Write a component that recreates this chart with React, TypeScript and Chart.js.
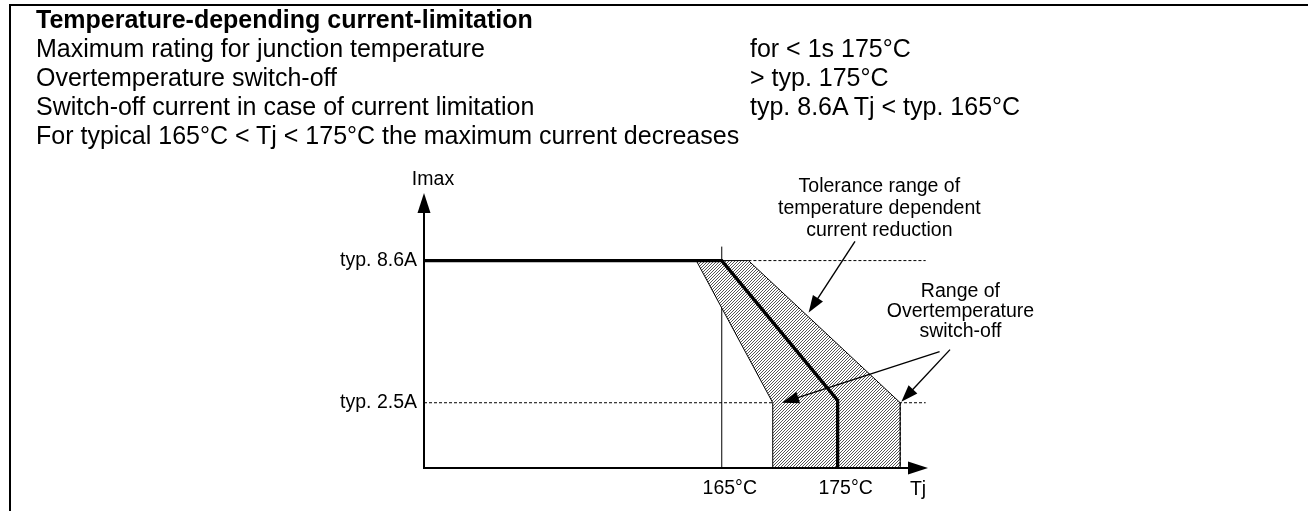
import React, { useEffect, useRef } from "react";
import { Chart, registerables } from "chart.js";

Chart.register(...registerables);

const FONT = '"Liberation Sans", Arial, Helvetica, sans-serif';
const CHART_FONT_SIZE = 19.5;

// ---------- header text ----------
const headerTitle = "Temperature-depending current-limitation";
const headerLeft = [
  "Maximum rating for junction temperature",
  "Overtemperature switch-off",
  "Switch-off current in case of current limitation",
  "For typical 165°C < Tj < 175°C the maximum current decreases",
];
const headerRight = ["for < 1s 175°C", "> typ. 175°C", "typ. 8.6A Tj < typ. 165°C"];

// ---------- axes ----------
const tjMin = 139.3;
const tjMax = 182.8;
const iMin = -0.3;
const iMax = 11.5;

const tjTicks = [165, 175];
const tjTickLabels = ["165°C", "175°C"];
const iTicks = [2.5, 8.6];
const iTickLabels = ["typ. 2.5A", "typ. 8.6A"];
const xAxisTitle = "Tj";
const yAxisTitle = "Imax";

// ---------- series ----------
// typical current limitation curve
const typicalTj = [139.3, 165, 175, 175];
const typicalI = [8.6, 8.6, 2.6, -0.3];

// tolerance band (closed polygon)
const bandTj = [162.8, 167.3, 180.4, 180.4, 169.4, 169.4, 162.8];
const bandI = [8.6, 8.6, 2.5, -0.3, -0.3, 2.5, 8.6];

// reference lines
const ref165Tj = [165, 165];
const ref165I = [-0.3, 9.2];
const ref86Tj = [167.3, 182.6];
const ref86I = [8.6, 8.6];
const ref25Tj = [139.3, 182.6];
const ref25I = [2.5, 2.5];

// ---------- annotations (data units) ----------
const toleranceLabel = ["Tolerance range of", "temperature dependent", "current reduction"];
const toleranceLabelAt = [178.6, 11.78];
const toleranceArrow = [[176.5, 9.42], [172.5, 6.37]];
const switchOffLabel = ["Range of", "Overtemperature", "switch-off"];
const switchOffLabelAt = [185.6, 7.27];
const switchOffArrows = [
  [[183.8, 4.69], [170.2, 2.5]],
  [[184.7, 4.78], [180.5, 2.54]],
];

const BAND_INDEX = 1;

const zip = (xs: number[], ys: number[]) => xs.map((x, i) => ({ x, y: ys[i] }));

function arrowHead(ctx: CanvasRenderingContext2D, fx: number, fy: number, tx: number, ty: number, len: number, half: number) {
  const dx = tx - fx;
  const dy = ty - fy;
  const d = Math.hypot(dx, dy) || 1;
  const ux = dx / d;
  const uy = dy / d;
  const bx = tx - ux * len;
  const by = ty - uy * len;
  ctx.beginPath();
  ctx.moveTo(tx, ty);
  ctx.lineTo(bx - uy * half, by + ux * half);
  ctx.lineTo(bx + uy * half, by - ux * half);
  ctx.closePath();
  ctx.fill();
}

function arrow(ctx: CanvasRenderingContext2D, fx: number, fy: number, tx: number, ty: number) {
  const dx = tx - fx;
  const dy = ty - fy;
  const d = Math.hypot(dx, dy) || 1;
  const len = 17;
  ctx.lineWidth = 1.4;
  ctx.beginPath();
  ctx.moveTo(fx, fy);
  ctx.lineTo(tx - (dx / d) * (len - 2), ty - (dy / d) * (len - 2));
  ctx.stroke();
  arrowHead(ctx, fx, fy, tx, ty, len, 6);
}

const makeHatchFill = (pattern: CanvasPattern | null) => ({
  id: "hatchFill",
  beforeDatasetDraw(chart: any, args: any) {
    if (args.index !== BAND_INDEX || !pattern) return;
    const pts = chart.getDatasetMeta(BAND_INDEX).data;
    if (!pts.length) return;
    const { ctx, chartArea: a } = chart;
    ctx.save();
    ctx.beginPath();
    ctx.rect(a.left, a.top, a.right - a.left, a.bottom - a.top);
    ctx.clip();
    ctx.beginPath();
    pts.forEach((p: any, i: number) => (i === 0 ? ctx.moveTo(p.x, p.y) : ctx.lineTo(p.x, p.y)));
    ctx.closePath();
    ctx.fillStyle = pattern;
    ctx.fill();
    ctx.restore();
  },
});

const decorPlugin = {
  id: "diagramDecor",
  afterDatasetsDraw(chart: any) {
    const { ctx, chartArea: a, scales } = chart;
    const px = (v: number) => scales.x.getPixelForValue(v);
    const py = (v: number) => scales.y.getPixelForValue(v);
    ctx.save();
    ctx.fillStyle = "#000";
    ctx.strokeStyle = "#000";
    ctx.setLineDash([]);

    // axes with arrows
    ctx.lineWidth = 2;
    ctx.beginPath();
    ctx.moveTo(a.left, a.bottom + 1);
    ctx.lineTo(a.left, a.top + 16);
    ctx.stroke();
    ctx.beginPath();
    ctx.moveTo(a.left - 1, a.bottom);
    ctx.lineTo(a.right - 16, a.bottom);
    ctx.stroke();
    arrowHead(ctx, a.left, a.top + 30, a.left, a.top, 20, 6.5);
    arrowHead(ctx, a.right - 30, a.bottom, a.right, a.bottom, 20, 6.5);

    ctx.font = `${CHART_FONT_SIZE}px ${FONT}`;
    ctx.textAlign = "center";
    ctx.textBaseline = "middle";
    ctx.fillText(yAxisTitle, a.left + 9, a.top - 13);
    ctx.fillText(xAxisTitle, a.right - 10, a.bottom + 22);

    // tolerance annotation
    const tx = px(toleranceLabelAt[0]);
    const ty = py(toleranceLabelAt[1]);
    toleranceLabel.forEach((t, i) => ctx.fillText(t, tx, ty + i * 22));
    arrow(ctx, px(toleranceArrow[0][0]), py(toleranceArrow[0][1]), px(toleranceArrow[1][0]), py(toleranceArrow[1][1]));

    // switch-off annotation
    const sx = px(switchOffLabelAt[0]);
    const sy = py(switchOffLabelAt[1]);
    switchOffLabel.forEach((t, i) => ctx.fillText(t, sx, sy + i * 20));
    switchOffArrows.forEach(([f, t]) => arrow(ctx, px(f[0]), py(f[1]), px(t[0]), py(t[1])));
    ctx.restore();
  },
};

export default function App() {
  const ref = useRef<HTMLCanvasElement>(null);

  useEffect(() => {
    const canvas = ref.current;
    if (!canvas) return;
    const tile = document.createElement("canvas");
    tile.width = 3;
    tile.height = 3;
    const tctx = tile.getContext("2d")!;
    const img = tctx.createImageData(3, 3);
    for (let y = 0; y < 3; y++) {
      for (let x = 0; x < 3; x++) {
        const k = (y * 3 + x) * 4;
        const v = (x + y) % 3 === 2 ? 85 : 255;
        img.data[k] = v;
        img.data[k + 1] = v;
        img.data[k + 2] = v;
        img.data[k + 3] = 255;
      }
    }
    tctx.putImageData(img, 0, 0);
    const pattern = canvas.getContext("2d")!.createPattern(tile, "repeat");

    const thin = { pointRadius: 0, pointHoverRadius: 0, pointHitRadius: 0, borderColor: "#000", fill: false };

    const chart = new Chart(canvas, {
      type: "line",
      data: {
        datasets: [
          {
            label: "typical",
            data: zip(typicalTj, typicalI),
            ...thin,
            borderWidth: 3.3,
            borderJoinStyle: "miter",
            order: 1,
          },
          {
            label: "tolerance band",
            data: zip(bandTj, bandI),
            ...thin,
            borderWidth: 1,
            order: 4,
            segment: {
              borderDash: (c: any) => (c.p0DataIndex === 2 ? [3, 2] : undefined),
            },
          },
          { label: "165", data: zip(ref165Tj, ref165I), ...thin, borderWidth: 1, order: 6 },
          { label: "8.6A", data: zip(ref86Tj, ref86I), ...thin, borderWidth: 1, borderDash: [3, 2], order: 5 },
          { label: "2.5A", data: zip(ref25Tj, ref25I), ...thin, borderWidth: 1, borderDash: [3, 2], order: 5 },
        ] as any,
      },
      options: {
        responsive: false,
        animation: false,
        devicePixelRatio: 1,
        layout: { padding: { left: 300, top: 193, right: 380, bottom: 0 } },
        plugins: { legend: { display: false }, tooltip: { enabled: false }, title: { display: false } },
        events: [],
        scales: {
          x: {
            type: "linear",
            min: tjMin,
            max: tjMax,
            grid: { display: false, drawTicks: false },
            border: { display: false },
            ticks: {
              autoSkip: false,
              maxRotation: 0,
              padding: 9,
              labelOffset: 8,
              color: "#000",
              font: { family: FONT, size: CHART_FONT_SIZE },
              callback: (v: any) => {
                const i = tjTicks.indexOf(Number(v));
                return i >= 0 ? tjTickLabels[i] : "";
              },
            },
            afterBuildTicks: (s: any) => {
              s.ticks = tjTicks.map((v) => ({ value: v }));
            },
            afterFit: (s: any) => {
              s.height = 43;
            },
          },
          y: {
            type: "linear",
            min: iMin,
            max: iMax,
            grid: { display: false, drawTicks: false },
            border: { display: false },
            ticks: {
              autoSkip: false,
              padding: 7,
              color: "#000",
              font: { family: FONT, size: CHART_FONT_SIZE },
              callback: (v: any) => {
                const i = iTicks.indexOf(Number(v));
                return i >= 0 ? iTickLabels[i] : "";
              },
            },
            afterBuildTicks: (s: any) => {
              s.ticks = iTicks.map((v) => ({ value: v }));
            },
            afterFit: (s: any) => {
              s.width = 124;
            },
          },
        },
      } as any,
      plugins: [makeHatchFill(pattern), decorPlugin],
    });
    return () => chart.destroy();
  }, []);

  const textStyle: React.CSSProperties = {
    position: "absolute",
    fontFamily: FONT,
    fontSize: 25,
    lineHeight: "29px",
    color: "#000",
    whiteSpace: "nowrap",
  };

  return (
    <div style={{ position: "absolute", left: 0, top: 0, width: 1308, height: 511, overflow: "hidden", background: "#fff" }}>
      <canvas ref={ref} width={1308} height={511} style={{ position: "absolute", left: 0, top: 0, width: 1308, height: 511 }} />
      <div
        style={{
          position: "absolute",
          left: 9,
          top: 4,
          right: -10,
          bottom: -10,
          borderLeft: "2px solid #000",
          borderTop: "2px solid #000",
          pointerEvents: "none",
        }}
      />
      <div style={{ ...textStyle, left: 36, top: 5 }}>
        <div style={{ fontWeight: "bold" }}>{headerTitle}</div>
        {headerLeft.map((t) => (
          <div key={t}>{t}</div>
        ))}
      </div>
      <div style={{ ...textStyle, left: 750, top: 34 }}>
        {headerRight.map((t) => (
          <div key={t}>{t}</div>
        ))}
      </div>
    </div>
  );
}
